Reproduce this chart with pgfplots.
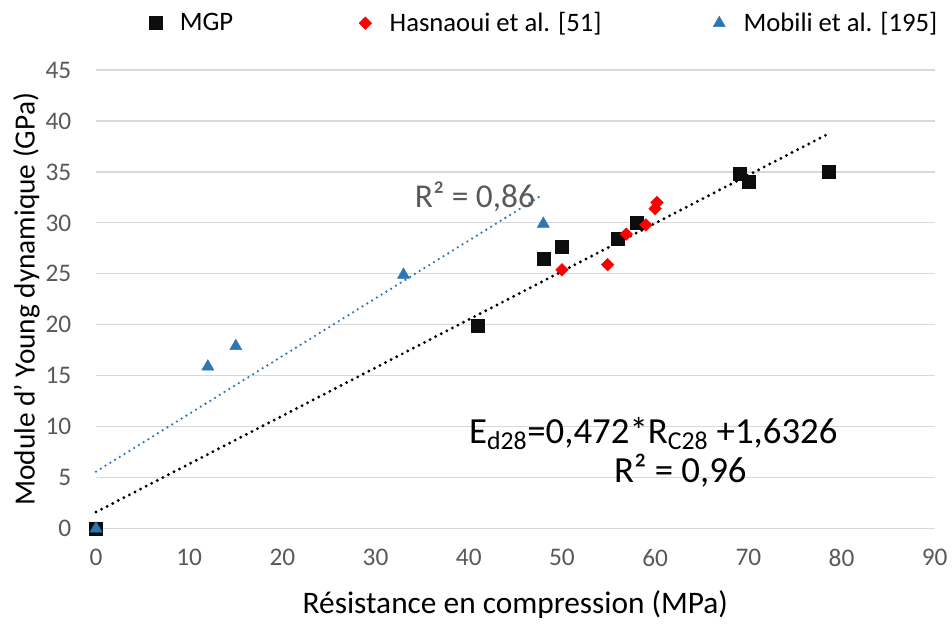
\documentclass[border=0pt]{standalone}
\usepackage{pgfplots}
\pgfplotsset{compat=1.18}
\usepackage{fontspec}
\setmainfont{Carlito}
\definecolor{tickgray}{HTML}{595959}
\definecolor{gridgray}{HTML}{D9D9D9}
\definecolor{mobblue}{HTML}{2E75B6}
\definecolor{mgpblack}{HTML}{0D0D0D}

\begin{document}
\begin{tikzpicture}
\begin{axis}[
    scale only axis,
    width=629pt, height=344pt,
    xmin=0, xmax=90, ymin=0, ymax=45,
    xtick={0,10,...,90}, ytick={0,5,...,45},
    axis line style={draw=none},
    major tick length=0pt,
    ymajorgrids,
    grid style={gridgray, line width=0.9pt},
    tick label style={font=\fontsize{19}{21}\selectfont, text=tickgray},
    /pgf/number format/assume math mode=true,
    yticklabel style={xshift=-15pt},
    xticklabel style={yshift=-12pt},
    clip=false,
    every axis x label/.style={at={(axis description cs:0.5,-0.166)}, anchor=center},
    every axis y label/.style={at={(axis description cs:-0.083,0.5)}, rotate=90, anchor=center},
    xlabel={\fontsize{23.5}{26}\selectfont Résistance en compression (MPa)},
    ylabel={\fontsize{22}{24}\selectfont Module d’ Young dynamique (GPa)},
    legend columns=3,
    legend image code/.code={\path (-6pt,0pt) (16pt,0pt); \draw[#1] plot coordinates {(0pt,0pt)};},
    legend style={draw=none, fill=none, at={(axis description cs:0.056,1.102)}, anchor=west,
        font=\fontsize{20}{22}\selectfont, column sep=0pt},
]
% trend lines (end points of the fitted lines)
\addplot[black, line width=2.4pt, line cap=round, dash pattern=on 0pt off 4.7pt, forget plot]
  coordinates {(0,1.63) (78.5,38.7)};
\addplot[mobblue, line width=1.9pt, line cap=round, dash pattern=on 0pt off 4.2pt, forget plot]
  coordinates {(0,5.6) (48,32.8)};

\addplot[only marks, mark=square*, mark size=4.9pt, mark options={fill=mgpblack, draw=mgpblack}]
  coordinates {(0,0) (41,19.9) (48,26.5) (50,27.7) (56,28.4) (58,30.0) (69.1,34.8) (70,34.0) (78.6,35.0)};
\addlegendentry{\makebox[131pt][l]{MGP}}

\addplot[only marks, mark=square*, mark size=3.3pt, mark options={fill=red, draw=red, rotate=45}]
  coordinates {(50,25.4) (54.9,25.9) (56.9,28.9) (59,29.8) (60,31.4) (60.2,32.0)};
\addlegendentry{\makebox[239pt][l]{Hasnaoui et al. [51]}}

\addplot[only marks, mark=triangle*, mark size=5.2pt, mark options={fill=mobblue, draw=mobblue}]
  coordinates {(0,0) (12,15.9) (15,17.9) (33,24.9) (48,29.9)};
\addlegendentry{Mobili et al. [195]}

\node[anchor=base west, inner sep=0pt, text=tickgray, font=\fontsize{25}{28}\selectfont] at (axis cs:34.2,31.5) {R² = 0,86};
\node[anchor=base, inner sep=0pt, font=\fontsize{27.6}{30}\selectfont] at (axis cs:59.8,8.4)
  {E\textsubscript{d28}=0,472*R\textsubscript{C28} +1,6326};
\node[anchor=base, inner sep=0pt, font=\fontsize{27.6}{30}\selectfont] at (axis cs:62.7,4.5) {R² = 0,96};
\end{axis}
\path[use as bounding box] (current axis.south west) ++(-72pt,-67.5pt) rectangle
  ([xshift=12.75pt,yshift=52.5pt]current axis.north east);
\end{tikzpicture}
\end{document}
